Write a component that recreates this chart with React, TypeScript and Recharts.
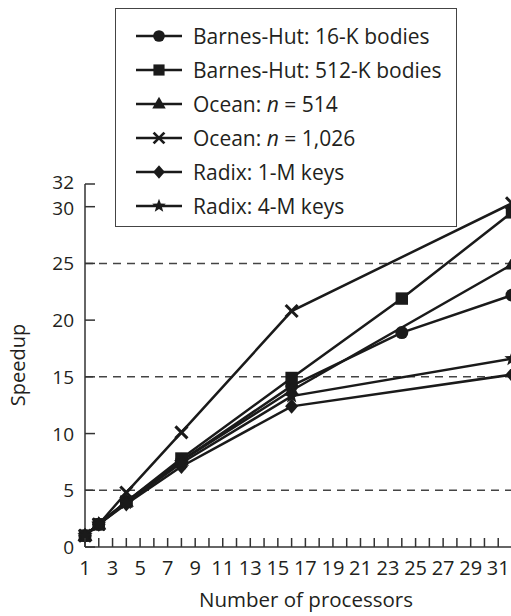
import React from 'react';
import { LineChart, Line, XAxis, YAxis, ReferenceLine, Legend } from 'recharts';

// ---- data ----
const PROCS_BH = [1, 2, 4, 8, 16, 24, 32];
const PROCS = [1, 2, 4, 8, 16, 32];

const BH_16K = [1, 2, 4.0, 7.6, 14.2, 18.9, 22.2];
const BH_512K = [1, 2, 4.0, 7.8, 14.9, 21.9, 29.5];
const OCEAN_514 = [1, 2, 4.0, 7.6, 13.8, 24.9];
const OCEAN_1026 = [1, 2, 4.8, 10.1, 20.8, 30.3];
const RADIX_1M = [1, 2, 3.8, 7.1, 12.4, 15.2];
const RADIX_4M = [1, 2, 3.9, 7.4, 13.3, 16.6];

const Y_TICKS = [0, 5, 10, 15, 20, 25, 30, 32];
const X_TICKS = [1, 2, 3, 4, 5, 6, 7, 8, 9, 10, 11, 12, 13, 14, 15, 16, 17, 18, 19, 20, 21, 22, 23, 24, 25, 26, 27, 28, 29, 30, 31, 32];
const GRID_VALUES = [5, 15, 25];

type Shape = 'circle' | 'square' | 'triangle' | 'cross' | 'diamond' | 'star';

const SERIES: { name: React.ReactNode; key: string; shape: Shape; procs: number[]; values: number[] }[] = [
  { key: 'bh16', name: 'Barnes-Hut: 16-K bodies', shape: 'circle', procs: PROCS_BH, values: BH_16K },
  { key: 'bh512', name: 'Barnes-Hut: 512-K bodies', shape: 'square', procs: PROCS_BH, values: BH_512K },
  { key: 'oc514', name: <>Ocean: <i>n</i> = 514</>, shape: 'triangle', procs: PROCS, values: OCEAN_514 },
  { key: 'oc1026', name: <>Ocean: <i>n</i> = 1,026</>, shape: 'cross', procs: PROCS, values: OCEAN_1026 },
  { key: 'rx1', name: 'Radix: 1-M keys', shape: 'diamond', procs: PROCS, values: RADIX_1M },
  { key: 'rx4', name: 'Radix: 4-M keys', shape: 'star', procs: PROCS, values: RADIX_4M },
];

// ---- style ----
const INK = '#1a1a1a';
const AXIS = '#333';
const TEXT = '#231f20';
const FONT = '"Open Sans", "Noto Sans", sans-serif';
const FS = 20;

function Marker({ shape, cx, cy, s = 1 }: { shape: Shape; cx: number; cy: number; s?: number }) {
  switch (shape) {
    case 'circle':
      return <circle cx={cx} cy={cy} r={6.5 * s} fill={INK} />;
    case 'square':
      return <rect x={cx - 6.2 * s} y={cy - 6.2 * s} width={12.4 * s} height={12.4 * s} fill={INK} />;
    case 'triangle':
      return (
        <polygon
          points={`${cx},${cy - 8 * s} ${cx + 7.5 * s},${cy + 5 * s} ${cx - 7.5 * s},${cy + 5 * s}`}
          fill={INK}
        />
      );
    case 'cross':
      return (
        <g stroke={INK} strokeWidth={3 * s}>
          <line x1={cx - 6 * s} y1={cy - 6 * s} x2={cx + 6 * s} y2={cy + 6 * s} />
          <line x1={cx - 6 * s} y1={cy + 6 * s} x2={cx + 6 * s} y2={cy - 6 * s} />
        </g>
      );
    case 'diamond':
      return (
        <polygon
          points={`${cx},${cy - 7.5 * s} ${cx + 6.5 * s},${cy} ${cx},${cy + 7.5 * s} ${cx - 6.5 * s},${cy}`}
          fill={INK}
        />
      );
    case 'star': {
      const pts: string[] = [];
      for (let i = 0; i < 10; i++) {
        const r = (i % 2 === 0 ? 8 : 3.4) * s;
        const a = -Math.PI / 2 + (i * Math.PI) / 5;
        pts.push(`${cx + r * Math.cos(a)},${cy + r * Math.sin(a)}`);
      }
      return <polygon points={pts.join(' ')} fill={INK} />;
    }
  }
  return null;
}

const makeDot = (shape: Shape) => (props: any) => {
  const { cx, cy, index } = props;
  if (cx == null || cy == null) return <g key={index} />;
  return (
    <g key={index}>
      <Marker shape={shape} cx={cx} cy={cy} />
    </g>
  );
};

const YTick = (props: any) => {
  const { x, y, payload } = props;
  const v = payload.value;
  // the two top labels sit very close; spread them slightly
  const nudge = v === 32 ? -2 : v === 30 ? 1.5 : 0;
  return (
    <g>
      <line x1={x} x2={x + 10} y1={y} y2={y} stroke={AXIS} strokeWidth={1.5} />
      <text x={x - 11} y={y + 7 + nudge} textAnchor="end" fontSize={19} fill={TEXT} fontFamily={FONT}>
        {v}
      </text>
    </g>
  );
};

const XTick = (props: any) => {
  const { x, y, payload } = props;
  const v = payload.value;
  return (
    <g>
      <line x1={x} x2={x} y1={y} y2={y - 9} stroke={AXIS} strokeWidth={1.5} />
      {v % 2 === 1 ? (
        <text x={x} y={575} textAnchor="middle" fontSize={FS} fill={TEXT} fontFamily={FONT}>
          {v}
        </text>
      ) : null}
    </g>
  );
};

const ROW_TOP = 27;
const ROW_STEP = 34;

const LegendBox = () => (
  <div
    style={{
      position: 'relative',
      width: 342,
      height: 219,
      boxSizing: 'border-box',
      border: '1.5px solid #444',
      background: '#fff',
      fontFamily: FONT,
      fontSize: 21,
      color: TEXT,
    }}
  >
    {SERIES.map((s, i) => (
      <div
        key={s.key}
        style={{
          position: 'absolute',
          left: 0,
          top: ROW_TOP + i * ROW_STEP - 14,
          height: 28,
          display: 'flex',
          alignItems: 'center',
          whiteSpace: 'nowrap',
        }}
      >
        <svg width={46} height={28} style={{ marginLeft: 20, display: 'block' }}>
          <line x1={0} x2={46} y1={14} y2={14} stroke={INK} strokeWidth={2.5} />
          <Marker shape={s.shape} cx={23} cy={14} s={0.9} />
        </svg>
        <span style={{ marginLeft: 11 }}>{s.name}</span>
      </div>
    ))}
  </div>
);

export default function App() {
  return (
    <div style={{ width: 511, height: 616, overflow: 'hidden', position: 'relative', background: '#fff' }}>
      <style>{`body{margin:0;overflow:hidden;}`}</style>
      <LineChart
        width={545}
        height={616}
        margin={{ top: 184, right: 33, bottom: 0, left: 0 }}
      >
        <XAxis
          type="number"
          dataKey="p"
          domain={[1, 32]}
          ticks={X_TICKS}
          interval={0}
          height={69}
          tickSize={0}
          tickMargin={0}
          tickLine={false}
          axisLine={{ stroke: AXIS, strokeWidth: 1.5 }}
          tick={<XTick />}
          allowDuplicatedCategory={false}
        />
        <YAxis
          type="number"
          domain={[0, 32]}
          ticks={Y_TICKS}
          interval={0}
          width={85}
          tickSize={0}
          tickMargin={0}
          tickLine={false}
          axisLine={{ stroke: AXIS, strokeWidth: 1.5 }}
          tick={<YTick />}
        />
        {GRID_VALUES.map((g) => (
          <ReferenceLine key={g} y={g} stroke="#444" strokeWidth={1.5} strokeDasharray="8 6" />
        ))}
        {SERIES.map((s) => (
          <Line
            key={s.key}
            data={s.procs.map((p, i) => ({ p, v: s.values[i] }))}
            dataKey="v"
            name={s.key}
            type="linear"
            stroke={INK}
            strokeWidth={2.5}
            dot={makeDot(s.shape)}
            activeDot={false}
            isAnimationActive={false}
          />
        ))}
        <Legend
          layout="vertical"
          align="center"
          verticalAlign="middle"
          wrapperStyle={{ left: 115, top: 8, width: 342, height: 219 }}
          content={() => <LegendBox />}
        />
        <text
          x={25}
          y={365}
          transform="rotate(-90, 25, 365)"
          textAnchor="middle"
          fontSize={FS}
          fill={TEXT}
          fontFamily={FONT}
        >
          Speedup
        </text>
        <text x={306} y={607} textAnchor="middle" fontSize={20.5} fill={TEXT} fontFamily={FONT}>
          Number of processors
        </text>
      </LineChart>
    </div>
  );
}
